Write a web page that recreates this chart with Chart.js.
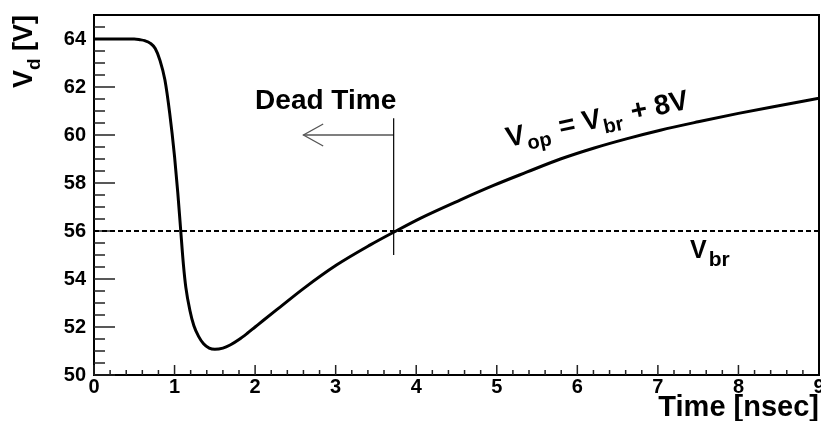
<!DOCTYPE html>
<html>
<head>
<meta charset="utf-8">
<script src="https://cdn.jsdelivr.net/npm/chart.js@4"></script>
<style>
  html, body { margin: 0; padding: 0; background: #fff; }
</style>
</head>
<body>
<canvas id="myChart" width="821" height="421"></canvas>
<script>
// detector voltage after a discharge, sampled from the pulse shape
var timeNs = [0, 0.3, 0.5, 0.57, 0.63, 0.7, 0.76, 0.82, 0.88, 0.94, 1.0, 1.04, 1.077, 1.11, 1.14, 1.19, 1.24, 1.3,
  1.36, 1.43, 1.5, 1.6, 1.69, 1.8, 1.9, 2.0, 2.1, 2.31, 2.6, 3.01, 3.43, 3.72, 4.05, 4.55, 4.96, 5.37, 5.79,
  6.2, 6.62, 7.03, 7.5, 8.0, 8.5, 9.0];
var voltage = [64, 64, 64, 63.97, 63.93, 63.82, 63.6, 63.1, 62.3, 60.9, 59.1, 57.6, 56.0, 54.6, 53.65, 52.7, 52.05, 51.6,
  51.3, 51.12, 51.07, 51.12, 51.25, 51.48, 51.73, 52.0, 52.27, 52.83, 53.6, 54.58, 55.42, 55.95, 56.53, 57.3, 57.9, 58.45, 59.0,
  59.45, 59.85, 60.2, 60.55, 60.9, 61.22, 61.53];

var xTicks = [0, 1, 2, 3, 4, 5, 6, 7, 8, 9];
var yTicks = [50, 52, 54, 56, 58, 60, 62, 64];

var breakdownV = 56;
var deadTimeEnd = 3.72;
var markerRange = [55.0, 60.7];
var arrowV = 60;
var arrowTip = 2.6;

var FONT = '"Liberation Sans", Arial, Helvetica, sans-serif';

function pts(xs, ys) {
  return xs.map(function (x, i) { return { x: x, y: ys[i] }; });
}

// text runs with subscripts, drawn one after the other
function drawParts(ctx, parts) {
  var cx = 0;
  parts.forEach(function (p) {
    ctx.font = 'bold ' + p.size + 'px ' + FONT;
    ctx.fillText(p.text, cx, p.dy || 0);
    cx += ctx.measureText(p.text).width + (p.gap || 0);
  });
}

var rootFrame = {
  id: 'rootFrame',
  beforeDatasetsDraw: function (chart) {
    var ctx = chart.ctx, xs = chart.scales.x, ys = chart.scales.y;
    var a = chart.chartArea;
    ctx.save();
    ctx.strokeStyle = '#222';
    ctx.lineWidth = 1.5;
    ctx.beginPath();
    // y ticks every 0.5, long ones every 2
    for (var i = 0; i <= 30; i++) {
      var py = ys.getPixelForValue(50 + i * 0.5);
      var len = (i % 4 === 0) ? 21 : 11;
      ctx.moveTo(a.left, py);
      ctx.lineTo(a.left + len, py);
    }
    // x ticks every 0.2, long ones every 1
    for (var j = 0; j <= 45; j++) {
      var px = xs.getPixelForValue(j * 0.2);
      var l2 = (j % 5 === 0) ? 10 : 5;
      ctx.moveTo(px, a.bottom);
      ctx.lineTo(px, a.bottom - l2);
    }
    ctx.stroke();
    ctx.restore();
  },
  afterDraw: function (chart) {
    var ctx = chart.ctx, xs = chart.scales.x, ys = chart.scales.y;
    var a = chart.chartArea;
    ctx.save();
    ctx.strokeStyle = '#000';
    ctx.lineWidth = 2;
    ctx.beginPath();
    ctx.moveTo(a.left, a.top);
    ctx.lineTo(a.right, a.top);
    ctx.lineTo(a.right, a.bottom);
    ctx.stroke();

    ctx.fillStyle = '#000';
    ctx.textAlign = 'left';
    ctx.textBaseline = 'alphabetic';

    // y axis title
    ctx.save();
    ctx.translate(32, 88);
    ctx.rotate(-Math.PI / 2);
    drawParts(ctx, [
      { text: 'V', size: 27 },
      { text: 'd', size: 19, dy: 8 },
      { text: ' [V]', size: 27 }
    ]);
    ctx.restore();

    // dead time label
    ctx.save();
    ctx.translate(xs.getPixelForValue(2.0), ys.getPixelForValue(61.08));
    drawParts(ctx, [{ text: 'Dead Time', size: 28 }]);
    ctx.restore();

    // operating voltage label, along the curve
    ctx.save();
    ctx.translate(xs.getPixelForValue(5.14), ys.getPixelForValue(59.5));
    ctx.rotate(-12 * Math.PI / 180);
    drawParts(ctx, [
      { text: 'V', size: 28, gap: 1 },
      { text: 'op', size: 20, dy: 7, gap: 2 },
      { text: ' = V', size: 28, gap: 1 },
      { text: 'br', size: 20, dy: 7, gap: 2 },
      { text: ' + 8V', size: 28 }
    ]);
    ctx.restore();

    // breakdown label
    ctx.save();
    ctx.translate(xs.getPixelForValue(7.4), ys.getPixelForValue(54.875));
    drawParts(ctx, [
      { text: 'V', size: 25, gap: 2 },
      { text: 'br', size: 21, dy: 8 }
    ]);
    ctx.restore();

    ctx.restore();
  }
};

var ctx = document.getElementById('myChart').getContext('2d');
var chart = new Chart(ctx, {
  type: 'line',
  data: {
    datasets: [{
      data: pts(timeNs, voltage),
      borderColor: '#000',
      borderWidth: 3,
      pointRadius: 0,
      cubicInterpolationMode: 'monotone'
    }, {
      // breakdown level
      data: pts([0, 9], [breakdownV, breakdownV]),
      borderColor: '#000',
      borderWidth: 2,
      borderDash: [5, 3],
      pointRadius: 0
    }, {
      // end of the dead time
      data: pts([deadTimeEnd, deadTimeEnd], markerRange),
      borderColor: '#000',
      borderWidth: 1.2,
      pointRadius: 0
    }, {
      data: pts([deadTimeEnd, arrowTip], [arrowV, arrowV]),
      borderColor: '#555',
      borderWidth: 1.6,
      pointRadius: 0
    }, {
      // open arrow head
      data: pts([2.845, arrowTip, 2.845], [60.46, arrowV, 59.54]),
      borderColor: '#555',
      borderWidth: 1.3,
      pointRadius: 0,
      tension: 0
    }]
  },
  options: {
    responsive: false,
    animation: false,
    layout: { padding: { left: 0, right: 2, top: 15, bottom: 0 } },
    plugins: { legend: { display: false }, tooltip: { enabled: false } },
    scales: {
      x: {
        type: 'linear',
        min: 0,
        max: 9,
        afterBuildTicks: function (scale) {
          scale.ticks = xTicks.map(function (v) { return { value: v }; });
        },
        afterFit: function (scale) {
          scale.height = 46;
          scale.paddingLeft = 0;
          scale.paddingRight = 0;
        },
        grid: { display: false, drawTicks: false },
        border: { display: true, color: '#000', width: 2 },
        ticks: {
          padding: 0,
          maxRotation: 0,
          autoSkip: false,
          color: '#000',
          font: { family: FONT, size: 20, weight: 'bold' }
        },
        title: {
          display: true,
          text: 'Time [nsec]',
          align: 'end',
          color: '#000',
          padding: { top: 0, bottom: -4 },
          font: { family: FONT, size: 29, weight: 'bold' }
        }
      },
      y: {
        min: 50,
        max: 65,
        afterBuildTicks: function (scale) {
          scale.ticks = yTicks.map(function (v) { return { value: v }; });
        },
        afterFit: function (scale) {
          scale.width = 94;
          scale.paddingTop = 0;
          scale.paddingBottom = 0;
        },
        grid: { display: false, drawTicks: false },
        border: { display: true, color: '#000', width: 2 },
        ticks: {
          padding: 8,
          color: '#000',
          font: { family: FONT, size: 20, weight: 'bold' }
        }
      }
    }
  },
  plugins: [rootFrame]
});
</script>
</body>
</html>
